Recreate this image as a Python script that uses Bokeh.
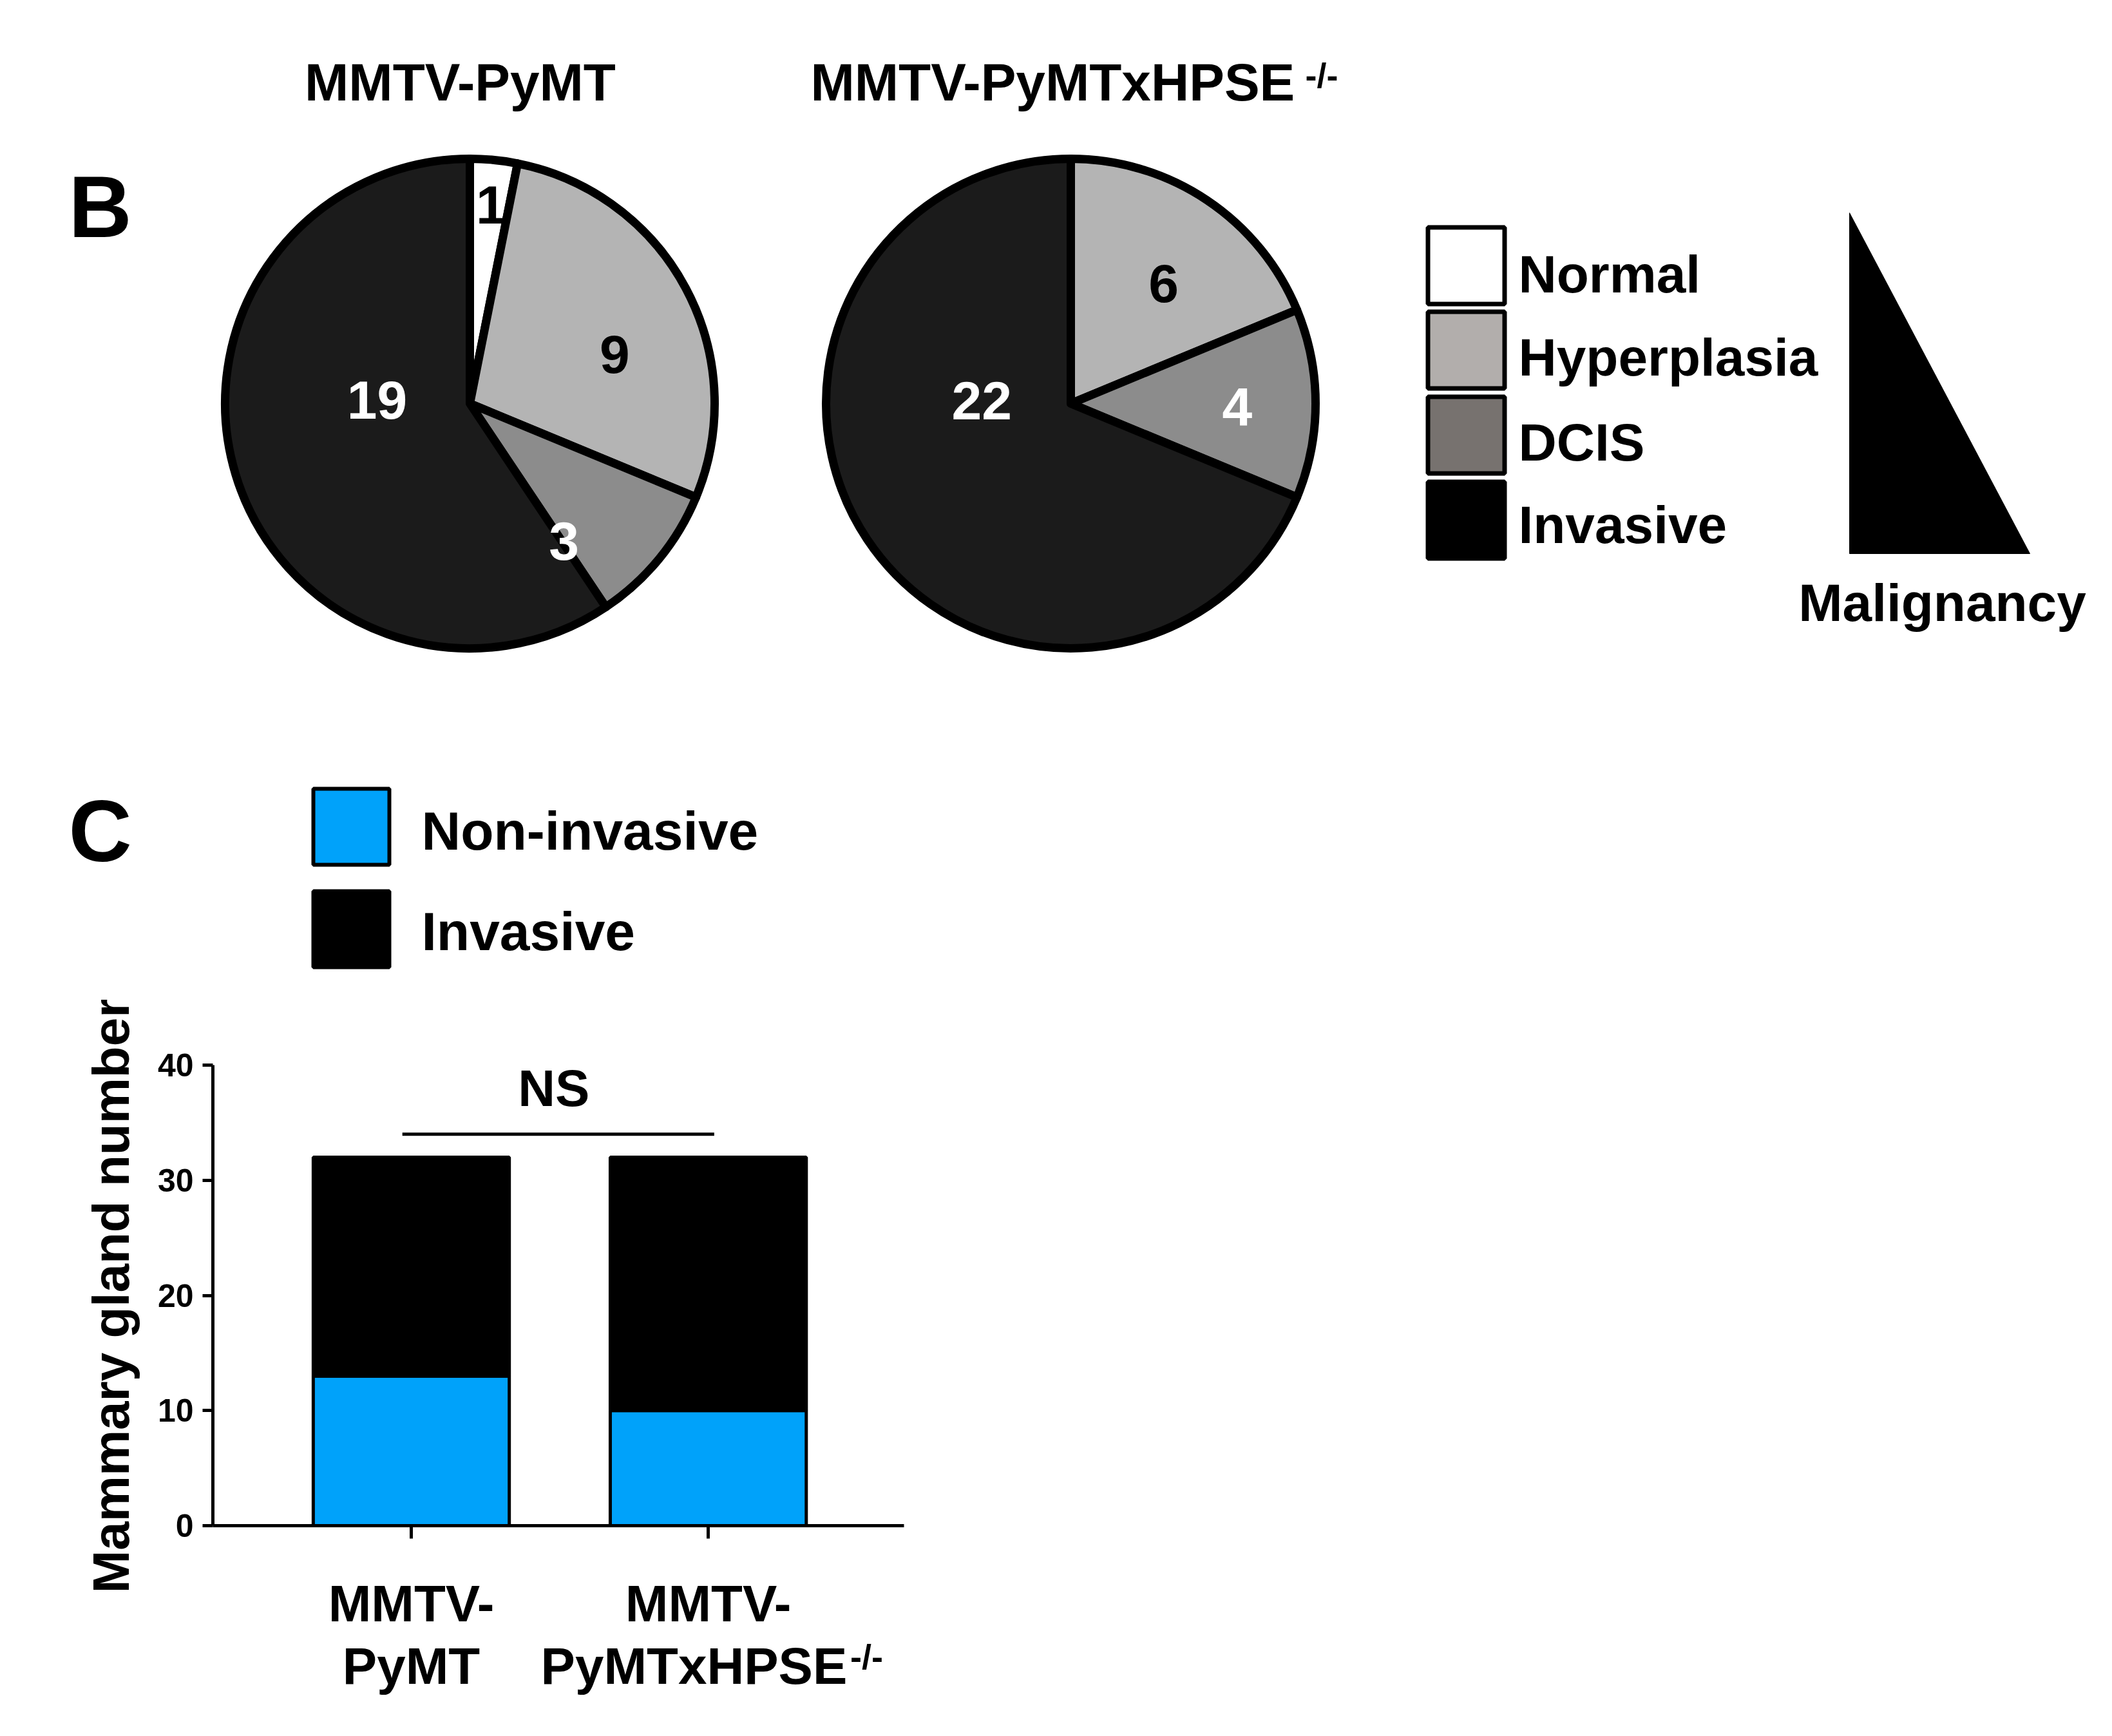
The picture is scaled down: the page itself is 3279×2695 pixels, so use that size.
import math
from bokeh.plotting import figure
from bokeh.models import Range1d, ColumnDataSource, Label, FixedTicker
from bokeh.embed import file_html
from bokeh.resources import INLINE
from bokeh.core.properties import value

# ---------------- data ----------------
stages = ["Normal", "Hyperplasia", "DCIS", "Invasive"]
counts_pymt = [1, 9, 3, 19]
counts_hpse = [0, 6, 4, 22]
pie_titles = ["MMTV-PyMT", "MMTV-PyMTxHPSE"]
groups = ["MMTV-\nPyMT", "MMTV-\nPyMTxHPSE"]
superscript = "-/-"
bar_series = ["Non-invasive", "Invasive"]
non_invasive = [13, 10]
invasive = [19, 22]
y_ticks = [0, 10, 20, 30, 40]

# ---------------- style ----------------
FONT = "Liberation Sans"
pie_fill = ["#ffffff", "#b4b4b4", "#8c8c8c", "#1b1b1b"]
legend_fill = ["#ffffff", "#b2aeac", "#77726f", "#000000"]
num_color = ["black", "black", "white", "white"]
BLUE = "#00a2fa"
# label placement inside each slice: (angle clockwise from 12 o'clock, radius fraction)
label_pos_pymt = [(6, 0.83), (70, 0.63), (145, 0.67), (274, 0.38)]
label_pos_hpse = [None, (37, 0.63), (90, 0.68), (274, 0.365)]

W1, H1 = 3263, 1552
DY = 5  # small baseline correction for mid-aligned text


def PX(x):
    return x - 8


def PY(y):
    return H1 - (y - 8)


top = figure(width=W1, height=H1, x_range=Range1d(0, W1), y_range=Range1d(0, H1),
             x_axis_type=None, y_axis_type=None, toolbar_location=None,
             output_backend="svg", min_border=0, outline_line_color=None)
top.background_fill_color = "white"
top.border_fill_color = "white"


def txt(fig, x, y, s, size, color="black", align="left", baseline="middle"):
    fig.text(x=[x], y=[y], text=[s], text_font=value(FONT), text_font_style="bold",
             text_font_size=value(f"{size}px"), text_color=color,
             text_align=align, text_baseline=baseline)


def draw_pie(cx, cy, r, counts, label_pos):
    total = sum(counts)
    cum = 0
    xs, ys, st, en, fc = [], [], [], [], []
    lx, ly, lt, lc = [], [], [], []
    for i, c in enumerate(counts):
        if c == 0:
            continue
        a0 = math.pi / 2 - 2 * math.pi * cum / total
        cum += c
        a1 = math.pi / 2 - 2 * math.pi * cum / total
        xs.append(cx); ys.append(cy); st.append(a0); en.append(a1); fc.append(pie_fill[i])
        ang, frac = label_pos[i]
        rad = math.radians(ang)
        lx.append(cx + frac * r * math.sin(rad))
        ly.append(cy + frac * r * math.cos(rad) - DY)
        lt.append(str(c))
        lc.append(num_color[i])
    top.wedge(x=xs, y=ys, radius=r, start_angle=st, end_angle=en, direction="clock",
              fill_color=fc, line_color="black", line_width=13, line_join="round")
    top.text(x=lx, y=ly, text=lt, text_color=lc, text_font=value(FONT),
             text_font_style="bold", text_font_size=value("84px"),
             text_align="center", text_baseline="middle")


R = 380
draw_pie(PX(737), PY(634), R, counts_pymt, label_pos_pymt)
draw_pie(PX(1670), PY(634), R, counts_hpse, label_pos_hpse)

# titles
txt(top, PX(722), PY(130 + DY), pie_titles[0], 82, align="center")
txt(top, PX(1266), PY(130 + DY), pie_titles[1], 82, align="left")
txt(top, PX(2034), PY(124), superscript, 54, align="left", baseline="alphabetic")

# panel letters
txt(top, PX(163), PY(328), "B", 136, align="center")
txt(top, PX(163), PY(1297), "C", 136, align="center")

# legend for pies
box_cy = [420, 551, 683, 815]
text_cy = [428, 557, 689, 817]
top.rect(x=[PX(2284)] * 4, y=[PY(v) for v in box_cy], width=119, height=119,
         fill_color=legend_fill, line_color="black", line_width=7)
top.text(x=[PX(2365)] * 4, y=[PY(v + DY) for v in text_cy], text=stages,
         text_font=value(FONT), text_font_style="bold", text_font_size=value("82px"),
         text_align="left", text_baseline="middle", text_color="black")

# malignancy triangle
top.patch(x=[PX(2879), PX(2879), PX(3159)], y=[PY(338), PY(867), PY(867)],
          fill_color="black", line_color="black", line_width=1)
txt(top, PX(3023), PY(941 + 2), "Malignancy", 82, align="center")

# legend for bar chart
top.rect(x=[PX(553)] * 2, y=[PY(1291), PY(1450)], width=118, height=118,
         fill_color=[BLUE, "black"], line_color="black", line_width=6)
top.text(x=[PX(662)] * 2, y=[PY(1292 + DY), PY(1448 + DY)], text=bar_series,
         text_font=value(FONT), text_font_style="bold", text_font_size=value("84px"),
         text_align="left", text_baseline="middle", text_color="black")

# ---------------- bar chart ----------------
W2, H2 = 1500, 1127
xpos = [i + 1 for i in range(len(groups))]
bot = figure(width=W2, height=H2, x_range=Range1d(0.332, 2.659), y_range=Range1d(0, 40),
             toolbar_location=None, output_backend="svg",
             min_border_left=330, min_border_right=W2 - 1403,
             min_border_top=101, min_border_bottom=311, outline_line_color=None)
bot.grid.visible = False
bot.background_fill_color = "white"
bot.border_fill_color = "white"

src = ColumnDataSource(dict(x=xpos, non=non_invasive, inv=invasive))
bot.vbar_stack(["non", "inv"], x="x", width=0.66, fill_color=[BLUE, "black"],
               line_color="black", line_width=5, source=src)

top_total = max(a + b for a, b in zip(non_invasive, invasive))
bot.line(x=[xpos[0] - 0.03, xpos[1] + 0.02], y=[top_total + 2, top_total + 2],
         line_color="black", line_width=5)
bot.add_layout(Label(x=(xpos[0] + xpos[1]) / 2 - 0.02, y=38.0, text="NS",
                     text_font=FONT, text_font_style="bold", text_font_size="80px",
                     text_align="center", text_baseline="middle", text_color="black"))

ya = bot.yaxis[0]
ya.ticker = FixedTicker(ticks=y_ticks)
ya.axis_label = "Mammary gland number"
ya.axis_label_text_font = FONT
ya.axis_label_text_font_style = "bold"
ya.axis_label_text_font_size = "80px"
ya.axis_label_text_color = "black"
ya.axis_label_standoff = 25
ya.major_label_text_font = FONT
ya.major_label_text_font_style = "bold"
ya.major_label_text_font_size = "50px"
ya.major_label_text_color = "black"
ya.major_label_standoff = 14
ya.major_tick_out = 16
ya.major_tick_in = 0
ya.minor_tick_out = 0
ya.minor_tick_in = 0
ya.axis_line_width = 5
ya.major_tick_line_width = 5
ya.axis_line_color = "black"
ya.major_tick_line_color = "black"

xa = bot.xaxis[0]
xa.ticker = FixedTicker(ticks=xpos)
xa.major_label_overrides = {xpos[0]: groups[0], xpos[1]: groups[1] + "\u00a0\u00a0"}
xa.major_label_text_font = FONT
xa.major_label_text_font_style = "bold"
xa.major_label_text_font_size = "80px"
xa.major_label_text_line_height = 1.1
xa.major_label_text_color = "black"
xa.major_label_standoff = 56
xa.major_tick_out = 20
xa.major_tick_in = 0
xa.minor_tick_out = 0
xa.minor_tick_in = 0
xa.axis_line_width = 5
xa.major_tick_line_width = 5
xa.axis_line_color = "black"
xa.major_tick_line_color = "black"

# superscript of the second group label (kept in a side panel so it is not clipped)
bot.add_layout(Label(x=xpos[1] + 0.478, y=-11.4, text=superscript, text_font=FONT,
                     text_font_style="bold", text_font_size="54px",
                     text_align="left", text_baseline="alphabetic", text_color="black"),
               "right")

open("out.html", "w").write(file_html([top, bot], INLINE, title="Mammary gland pathology"))
